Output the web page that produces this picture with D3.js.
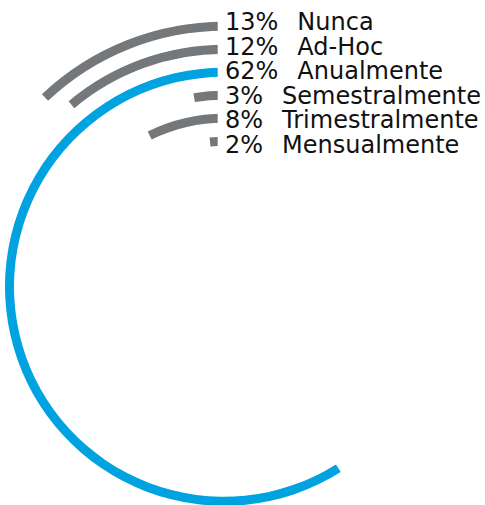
<!DOCTYPE html>
<html>
<head>
<meta charset="utf-8">
<script src="https://cdn.jsdelivr.net/npm/d3@7"></script>
<style>
  html, body { margin: 0; padding: 0; background: #fff; }
  svg { display: block; }
</style>
</head>
<body>
<svg id="chart" width="485" height="505"></svg>
<script>
// Frequency categories, outermost ring first
const categories = ["Nunca", "Ad-Hoc", "Anualmente", "Semestralmente", "Trimestralmente", "Mensualmente"];
// Share of responses (%)
const values = [13, 12, 62, 3, 8, 2];
const pctLabels = ["13%", "12%", "62%", "3%", "8%", "2%"];
const highlighted = ["Anualmente"];

const W = 485, H = 505;
const svg = d3.select("#chart");
const cx = 224, cy = 286.75;
const band = 9;
const labelX = 225;

// Sweep of each ring, counter-clockwise from 12 o'clock
const angle = d3.scaleLinear().domain([0.4, 104.9]).range([0, 2 * Math.PI]);
// Ring radius per category
const radius = d3.scalePoint().domain(categories).range([260.5, 145.5]);
// Label baselines
const labelY = d3.scalePoint().domain(categories).range([30, 153]);

const color = c => highlighted.includes(c) ? "#00a3e0" : "#75787b";

const data = categories.map((c, i) => ({ cat: c, value: values[i], pct: pctLabels[i] }));

// Rings stop short of the label column
const clip = svg.append("defs").append("clipPath").attr("id", "ringClip");
clip.append("rect")
  .attr("x", 0).attr("y", 0)
  .attr("width", labelX - 7.3).attr("height", H);
clip.append("rect")
  .attr("x", 0).attr("y", 170)
  .attr("width", W).attr("height", H - 170);

const arc = d3.arc()
  .innerRadius(d => radius(d.cat) - band / 2)
  .outerRadius(d => radius(d.cat) + band / 2)
  .startAngle(0)
  .endAngle(d => -angle(d.value));

svg.append("g")
  .attr("clip-path", "url(#ringClip)")
  .append("g")
  .attr("transform", `translate(${cx},${cy})`)
  .selectAll("path")
  .data(data)
  .join("path")
  .attr("d", arc)
  .attr("fill", d => color(d.cat));

const labels = svg.append("g")
  .attr("font-family", "'DejaVu Sans', Verdana, sans-serif")
  .attr("font-size", 24)
  .attr("fill", "#111");

const t = labels.selectAll("text")
  .data(data)
  .join("text")
  .attr("x", labelX)
  .attr("y", d => labelY(d.cat));

t.append("tspan").text(d => d.pct);
t.append("tspan").attr("dx", 19).text(d => d.cat);
</script>
</body>
</html>
